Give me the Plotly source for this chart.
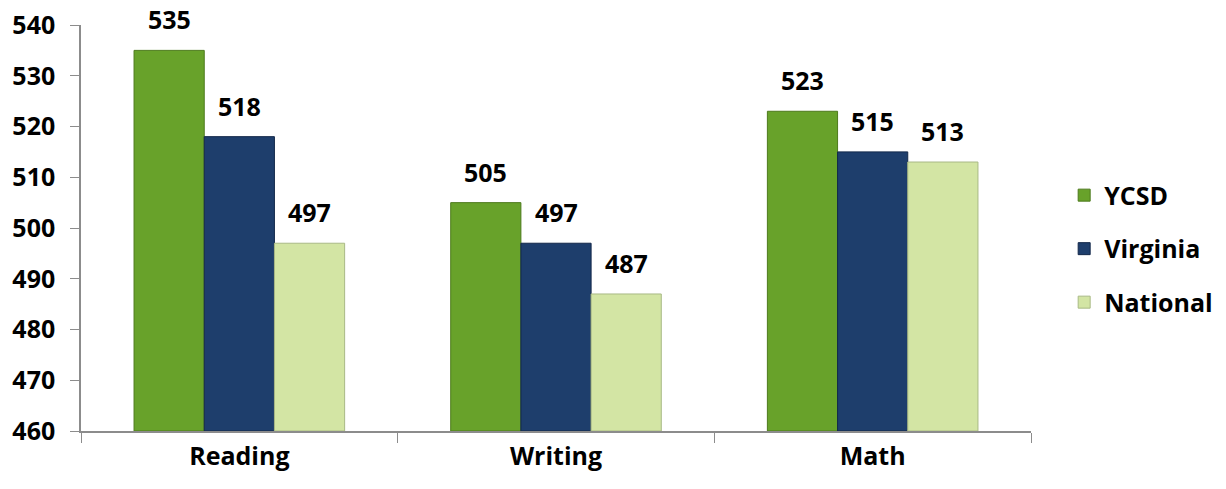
import plotly.graph_objects as go

categories = ["Reading", "Writing", "Math"]
series_names = ["YCSD", "Virginia", "National"]
ycsd = [535, 505, 523]
virginia = [518, 497, 515]
national = [497, 487, 513]
y_ticks = [460, 470, 480, 490, 500, 510, 520, 530, 540]

colors = ["#68a22a", "#1e3e6c", "#d3e5a4"]
edges = ["#4d7a1c", "#13284a", "#a9b985"]

W, H = 1226, 489
margin = dict(l=81, r=195, t=25, b=58)
bargap = 0.335
plot_w = W - margin["l"] - margin["r"]
bar_px = plot_w / len(categories) * (1 - bargap) / len(series_names)

font_family = "'Open Sans', Lato, sans-serif"
FS = 25

fig = go.Figure()
annotations = []
for i, (name, vals) in enumerate(zip(series_names, [ycsd, virginia, national])):
    fig.add_trace(go.Bar(
        name=f"<b>{name}</b>", x=categories, y=[v - 460 for v in vals], base=460,
        legendgroup=name,
        marker=dict(color=colors[i], line=dict(color=edges[i], width=1)),
        hoverinfo="skip",
    ))
    for c, v in zip(categories, vals):
        annotations.append(dict(
            x=c, y=v, xref="x", yref="y", text=f"<b>{v}</b>", showarrow=False,
            xshift=(i - 1) * bar_px, yshift=12, yanchor="bottom",
            font=dict(family=font_family, size=FS, color="#000"),
        ))

fig.update_layout(
    width=W, height=H, margin=margin,
    paper_bgcolor="white", plot_bgcolor="white",
    barmode="group", bargap=bargap, bargroupgap=0,
    annotations=annotations,
    showlegend=True,
    legend=dict(xref="container", yref="container", x=0.868, y=0.491,
                xanchor="left", yanchor="middle",
                font=dict(family=font_family, size=FS, color="#000"),
                traceorder="grouped", tracegroupgap=18, itemwidth=30,
                bgcolor="rgba(0,0,0,0)"),
    font=dict(family=font_family, color="#000"),
)
fig.update_xaxes(
    showline=True, linecolor="#8c8c8c", linewidth=1.5,
    ticks="outside", tickson="boundaries", ticklen=10, tickcolor="#8c8c8c",
    tickfont=dict(family=font_family, size=FS, color="#000"),
    ticklabelstandoff=2, automargin=False,
    tickprefix="<b>", ticksuffix="</b>",
)
fig.update_yaxes(
    range=[460, 540], tickvals=y_ticks, ticktext=[f"<b>{t}</b>" for t in y_ticks],
    showline=True, linecolor="#8c8c8c", linewidth=1.5,
    ticks="outside", ticklen=9, tickcolor="#8c8c8c",
    tickfont=dict(family=font_family, size=FS, color="#000"),
    ticklabelstandoff=10, automargin=False,
    showgrid=False, zeroline=False,
)

fig.write_html("out.html")
